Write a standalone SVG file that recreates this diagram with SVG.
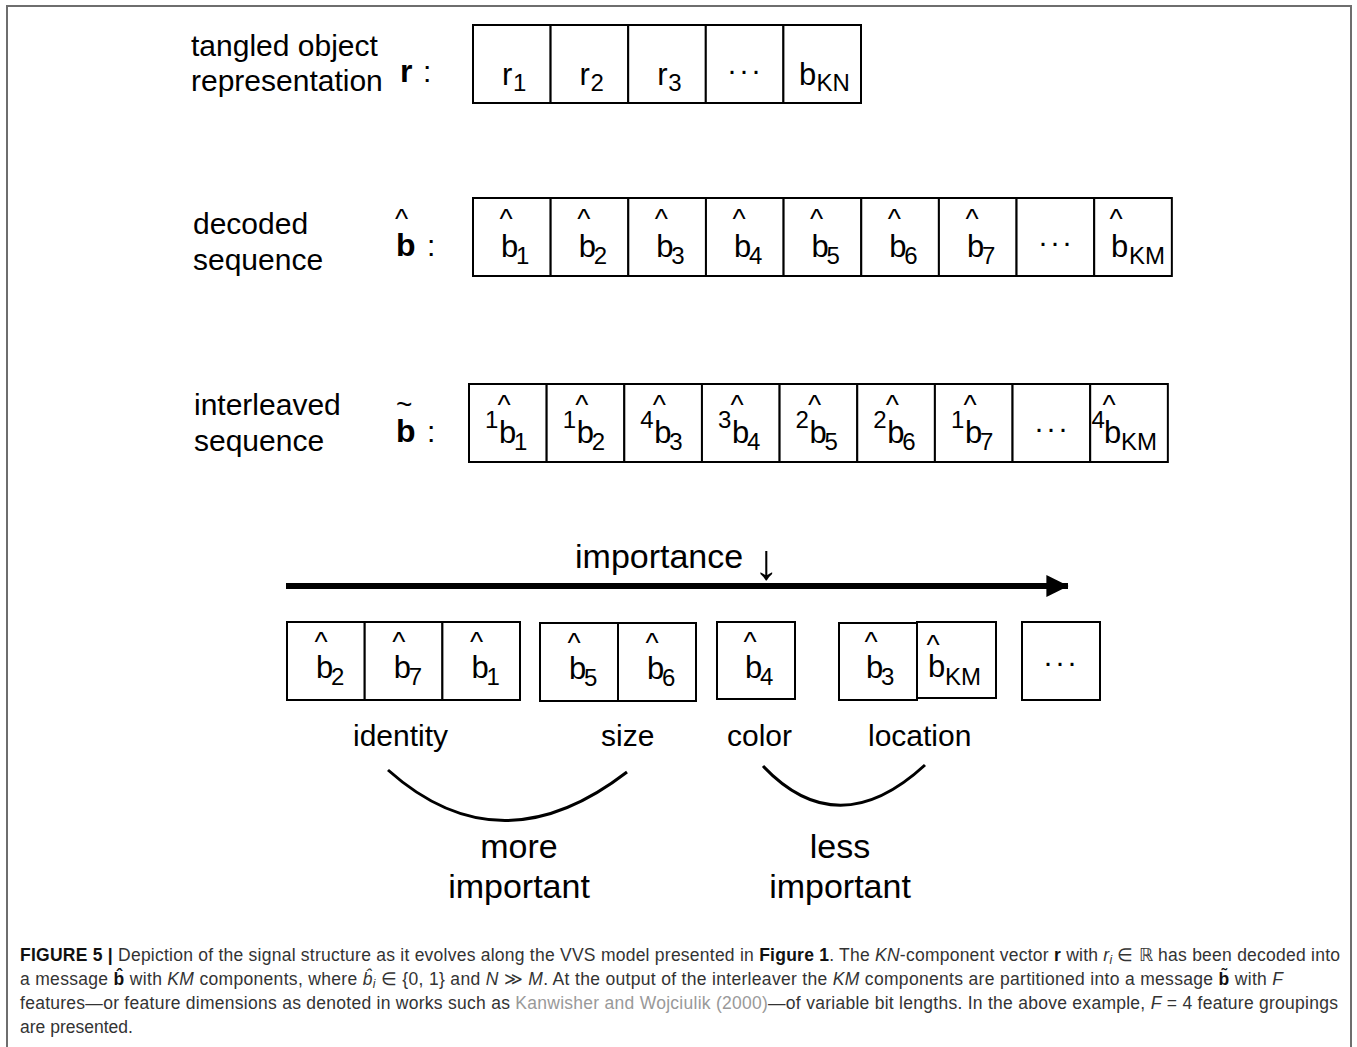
<svg xmlns="http://www.w3.org/2000/svg" width="1357" height="1047" viewBox="0 0 1357 1047">
<defs>
<style>
text{font-family:"Liberation Sans",Arial,sans-serif;fill:#000}
.lab{font-size:30px}
.big{font-size:34px}
.b{font-size:31px}
.sub{font-size:24px}
.hat{font-size:28px}
.dots{font-size:30px;text-anchor:middle;letter-spacing:2px}
.cell{fill:#fff;stroke:#000;stroke-width:2}
.cap{font-size:17.5px;fill:#333}
.arc{fill:none;stroke:#000;stroke-width:3}
</style>
<marker id="ah" markerWidth="4" markerHeight="4" refX="3.6" refY="2" orient="auto" markerUnits="strokeWidth">
<path d="M0,0.15 L3.7,2 L0,3.85 Z" fill="#000"/>
</marker>
</defs>
<rect width="1357" height="1047" fill="#fff"/>
<path d="M7,1047 V6 H1351 V1047" fill="none" stroke="#6e6e6e" stroke-width="2"/>

<!-- row 1 -->
<g id="label-r">
<text class="lab" x="191" y="56">tangled object</text>
<text class="lab" x="191" y="91">representation</text>
<text x="400" y="82" style="font-size:32px;font-weight:bold">r</text>
<text x="423" y="82" style="font-size:30px">:</text>
</g>
<g id="row-r">
<rect class="cell" x="473" y="25" width="77.6" height="78"/>
<rect class="cell" x="550.6" y="25" width="77.6" height="78"/>
<rect class="cell" x="628.2" y="25" width="77.6" height="78"/>
<rect class="cell" x="705.8" y="25" width="77.6" height="78"/>
<rect class="cell" x="783.4" y="25" width="77.6" height="78"/>
<text class="b" x="502" y="85">r<tspan class="sub" x="513" y="91">1</tspan></text>
<text class="b" x="579.6" y="85">r<tspan class="sub" x="590.6" y="91">2</tspan></text>
<text class="b" x="657.2" y="85">r<tspan class="sub" x="668.2" y="91">3</tspan></text>
<text class="dots" x="745" y="80">···</text>
<text class="b" x="799" y="85">b<tspan class="sub" x="816.5" y="91">KN</tspan></text>
</g>

<!-- row 2 -->
<g id="label-bhat">
<text class="lab" x="193" y="234">decoded</text>
<text class="lab" x="193" y="270">sequence</text>
<text x="396" y="256" style="font-size:32px;font-weight:bold">b<tspan class="hat" style="font-weight:normal" x="395" y="228">^</tspan></text>
<text x="427" y="256" style="font-size:30px">:</text>
</g>
<g id="row-bhat">
<rect class="cell" x="473" y="198" width="77.65" height="78"/>
<rect class="cell" x="550.65" y="198" width="77.65" height="78"/>
<rect class="cell" x="628.3" y="198" width="77.65" height="78"/>
<rect class="cell" x="705.95" y="198" width="77.65" height="78"/>
<rect class="cell" x="783.6" y="198" width="77.65" height="78"/>
<rect class="cell" x="861.25" y="198" width="77.65" height="78"/>
<rect class="cell" x="938.9" y="198" width="77.65" height="78"/>
<rect class="cell" x="1016.55" y="198" width="77.65" height="78"/>
<rect class="cell" x="1094.2" y="198" width="77.65" height="78"/>
<text class="b" x="501" y="257">b<tspan class="hat" x="499.5" y="228">^</tspan><tspan class="sub" x="516" y="264">1</tspan></text>
<text class="b" x="578.7" y="257">b<tspan class="hat" x="577.2" y="228">^</tspan><tspan class="sub" x="593.7" y="264">2</tspan></text>
<text class="b" x="656.3" y="257">b<tspan class="hat" x="654.8" y="228">^</tspan><tspan class="sub" x="671.3" y="264">3</tspan></text>
<text class="b" x="734" y="257">b<tspan class="hat" x="732.5" y="228">^</tspan><tspan class="sub" x="749" y="264">4</tspan></text>
<text class="b" x="811.6" y="257">b<tspan class="hat" x="810.1" y="228">^</tspan><tspan class="sub" x="826.6" y="264">5</tspan></text>
<text class="b" x="889.3" y="257">b<tspan class="hat" x="887.8" y="228">^</tspan><tspan class="sub" x="904.3" y="264">6</tspan></text>
<text class="b" x="966.9" y="257">b<tspan class="hat" x="965.4" y="228">^</tspan><tspan class="sub" x="981.9" y="264">7</tspan></text>
<text class="dots" x="1056" y="252">···</text>
<text class="b" x="1111" y="257">b<tspan class="hat" x="1109.5" y="228">^</tspan><tspan class="sub" x="1129" y="264">KM</tspan></text>
</g>

<!-- row 3 -->
<g id="label-btilde">
<text class="lab" x="194" y="415">interleaved</text>
<text class="lab" x="194" y="451">sequence</text>
<text x="396" y="442" style="font-size:32px;font-weight:bold">b<tspan style="font-size:28px;font-weight:normal" x="396" y="414">~</tspan></text>
<text x="427" y="442" style="font-size:30px">:</text>
</g>
<g id="row-btilde">
<rect class="cell" x="469" y="384" width="77.65" height="78"/>
<rect class="cell" x="546.65" y="384" width="77.65" height="78"/>
<rect class="cell" x="624.3" y="384" width="77.65" height="78"/>
<rect class="cell" x="701.95" y="384" width="77.65" height="78"/>
<rect class="cell" x="779.6" y="384" width="77.65" height="78"/>
<rect class="cell" x="857.25" y="384" width="77.65" height="78"/>
<rect class="cell" x="934.9" y="384" width="77.65" height="78"/>
<rect class="cell" x="1012.55" y="384" width="77.65" height="78"/>
<rect class="cell" x="1090.2" y="384" width="77.65" height="78"/>
<text class="sub" x="485" y="428">1<tspan class="b" x="499" y="443">b</tspan><tspan class="hat" x="497.5" y="414">^</tspan><tspan x="514" y="450">1</tspan></text>
<text class="sub" x="562.7" y="428">1<tspan class="b" x="576.7" y="443">b</tspan><tspan class="hat" x="575.2" y="414">^</tspan><tspan x="591.7" y="450">2</tspan></text>
<text class="sub" x="640.3" y="428">4<tspan class="b" x="654.3" y="443">b</tspan><tspan class="hat" x="652.8" y="414">^</tspan><tspan x="669.3" y="450">3</tspan></text>
<text class="sub" x="718" y="428">3<tspan class="b" x="732" y="443">b</tspan><tspan class="hat" x="730.5" y="414">^</tspan><tspan x="747" y="450">4</tspan></text>
<text class="sub" x="795.6" y="428">2<tspan class="b" x="809.6" y="443">b</tspan><tspan class="hat" x="808.1" y="414">^</tspan><tspan x="824.6" y="450">5</tspan></text>
<text class="sub" x="873.3" y="428">2<tspan class="b" x="887.3" y="443">b</tspan><tspan class="hat" x="885.8" y="414">^</tspan><tspan x="902.3" y="450">6</tspan></text>
<text class="sub" x="950.9" y="428">1<tspan class="b" x="964.9" y="443">b</tspan><tspan class="hat" x="963.4" y="414">^</tspan><tspan x="979.9" y="450">7</tspan></text>
<text class="dots" x="1052" y="438">···</text>
<text class="sub" x="1091.5" y="428">4<tspan class="b" x="1104" y="443">b</tspan><tspan class="hat" x="1102.5" y="414">^</tspan><tspan x="1121" y="450">KM</tspan></text>
</g>

<!-- importance -->
<g id="importance">
<text class="big" x="575" y="568">importance <tspan x="754" y="579" style="font-size:50px">↓</tspan></text>
</g>

<g id="connectors">
<line x1="286" y1="586" x2="1068" y2="586" stroke="#000" stroke-width="6" marker-end="url(#ah)"/>
<path class="arc" d="M388,770 Q500,870 627,772"/>
<path class="arc" d="M763,766 Q838,845 925,765"/>
</g>

<!-- bottom groups -->
<g id="group-identity">
<rect class="cell" x="287" y="622" width="77.7" height="78"/>
<rect class="cell" x="364.7" y="622" width="77.7" height="78"/>
<rect class="cell" x="442.4" y="622" width="77.6" height="78"/>
<text class="b" x="316" y="678">b<tspan class="hat" x="314.5" y="651">^</tspan><tspan class="sub" x="331" y="685">2</tspan></text>
<text class="b" x="393.7" y="678">b<tspan class="hat" x="392.2" y="651">^</tspan><tspan class="sub" x="408.7" y="685">7</tspan></text>
<text class="b" x="471.4" y="678">b<tspan class="hat" x="469.9" y="651">^</tspan><tspan class="sub" x="486.4" y="685">1</tspan></text>
<text class="lab" x="353" y="746">identity</text>
</g>
<g id="group-size">
<rect class="cell" x="540" y="623" width="78" height="78"/>
<rect class="cell" x="618" y="623" width="78" height="78"/>
<text class="b" x="569" y="679">b<tspan class="hat" x="567.5" y="652">^</tspan><tspan class="sub" x="584" y="686">5</tspan></text>
<text class="b" x="647" y="679">b<tspan class="hat" x="645.5" y="652">^</tspan><tspan class="sub" x="662" y="686">6</tspan></text>
<text class="lab" x="601" y="746">size</text>
</g>
<g id="group-color">
<rect class="cell" x="717" y="622" width="78" height="77"/>
<text class="b" x="745" y="678">b<tspan class="hat" x="743.5" y="651">^</tspan><tspan class="sub" x="760" y="685">4</tspan></text>
<text class="lab" x="727" y="746">color</text>
</g>
<g id="group-location">
<rect class="cell" x="839" y="623" width="78" height="77"/>
<rect class="cell" x="917" y="622" width="79" height="76"/>
<text class="b" x="866" y="678">b<tspan class="hat" x="864.5" y="651">^</tspan><tspan class="sub" x="881" y="685">3</tspan></text>
<text class="b" x="928" y="677">b<tspan class="hat" x="926.5" y="654">^</tspan><tspan class="sub" x="945" y="685">KM</tspan></text>
<text class="lab" x="868" y="746">location</text>
</g>
<g id="group-more">
<rect class="cell" x="1022" y="622" width="78" height="78"/>
<text class="dots" x="1061" y="672">···</text>
</g>

<g id="more-important">
<text class="big" x="519" y="858" text-anchor="middle">more</text>
<text class="big" x="519" y="898" text-anchor="middle">important</text>
</g>
<g id="less-important">
<text class="big" x="840" y="858" text-anchor="middle">less</text>
<text class="big" x="840" y="898" text-anchor="middle">important</text>
</g>

<!-- caption -->
<g id="caption">
<text class="cap" x="20" y="961" textLength="1320"><tspan font-weight="bold" fill="#111">FIGURE 5 |</tspan> Depiction of the signal structure as it evolves along the VVS model presented in <tspan font-weight="bold" fill="#111">Figure 1</tspan>. The <tspan font-style="italic">KN</tspan>-component vector <tspan font-weight="bold" fill="#111">r</tspan> with <tspan font-style="italic">r</tspan><tspan font-style="italic" font-size="12px" dy="3">i</tspan><tspan dy="-3"> ∈ ℝ has been decoded into</tspan></text>
<text class="cap" x="20" y="985" textLength="1263">a message <tspan font-weight="bold" fill="#111">b̂</tspan> with <tspan font-style="italic">KM</tspan> components, where <tspan font-style="italic">b̂</tspan><tspan font-style="italic" font-size="12px" dy="3">i</tspan><tspan dy="-3"> ∈ {0, 1} and </tspan><tspan font-style="italic">N</tspan> ≫ <tspan font-style="italic">M</tspan>. At the output of the interleaver the <tspan font-style="italic">KM</tspan> components are partitioned into a message <tspan font-weight="bold" fill="#111">b̃</tspan> with <tspan font-style="italic">F</tspan></text>
<text class="cap" x="20" y="1009" textLength="1318">features—or feature dimensions as denoted in works such as <tspan fill="#999">Kanwisher and Wojciulik (2000)</tspan>—of variable bit lengths. In the above example, <tspan font-style="italic">F</tspan> = 4 feature groupings</text>
<text class="cap" x="20" y="1033">are presented.</text>
</g>
</svg>
